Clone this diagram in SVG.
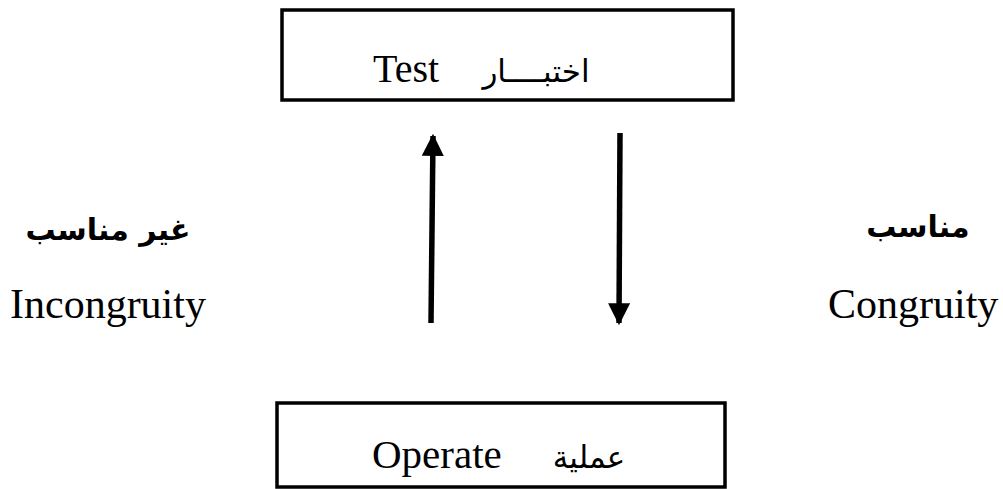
<svg xmlns="http://www.w3.org/2000/svg" width="1003" height="489" viewBox="0 0 1003 489">
<style>
.box{fill:#fff;stroke:#000;stroke-width:3.5}
.en{font-family:"Liberation Serif","Times New Roman",serif;fill:#000}
.ar{font-family:"DejaVu Sans",sans-serif;fill:#000}
.conn{stroke:#000;stroke-width:5.5;fill:none}
</style>
<defs>
<marker id="ah" viewBox="0 0 10 10" refX="9" refY="5" markerWidth="4" markerHeight="4" orient="auto" markerUnits="strokeWidth">
<path d="M0,0 L10,5 L0,10 z" fill="#000"/>
</marker>
</defs>
<rect width="1003" height="489" fill="#fff"/>
<g id="test">
<rect class="box" x="282" y="10" width="451" height="90"/>
<text class="en" x="373" y="82" font-size="40">Test</text>
<text class="ar" x="536" y="82" font-size="31" text-anchor="middle" direction="rtl">اختبــــار</text>
</g>
<g id="operate">
<rect class="box" x="277" y="403" width="448" height="84"/>
<text class="en" x="372" y="468" font-size="41">Operate</text>
<text class="ar" x="589" y="468" font-size="31" text-anchor="middle" direction="rtl">عملية</text>
</g>
<g id="incongruity">
<text class="ar" x="108" y="240" font-size="30" font-weight="bold" text-anchor="middle" direction="rtl">غير مناسب</text>
<text class="en" x="10" y="318" font-size="42">Incongruity</text>
</g>
<g id="congruity">
<text class="ar" x="918" y="237" font-size="30" font-weight="bold" text-anchor="middle" direction="rtl">مناسب</text>
<text class="en" x="828" y="318" font-size="42">Congruity</text>
</g>
<g id="connectors">
<line class="conn" x1="431" y1="323" x2="433" y2="136" marker-end="url(#ah)"/>
<line class="conn" x1="620" y1="133" x2="619" y2="323" marker-end="url(#ah)"/>
</g>
</svg>
